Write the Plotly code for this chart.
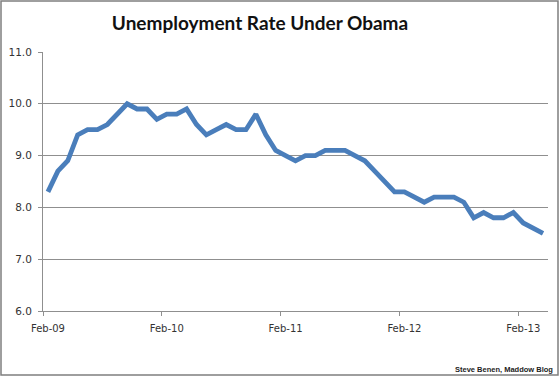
import plotly.graph_objects as go

months = ["Feb-09","Mar-09","Apr-09","May-09","Jun-09","Jul-09","Aug-09","Sep-09","Oct-09","Nov-09","Dec-09",
          "Jan-10","Feb-10","Mar-10","Apr-10","May-10","Jun-10","Jul-10","Aug-10","Sep-10","Oct-10","Nov-10","Dec-10",
          "Jan-11","Feb-11","Mar-11","Apr-11","May-11","Jun-11","Jul-11","Aug-11","Sep-11","Oct-11","Nov-11","Dec-11",
          "Jan-12","Feb-12","Mar-12","Apr-12","May-12","Jun-12","Jul-12","Aug-12","Sep-12","Oct-12","Nov-12","Dec-12",
          "Jan-13","Feb-13","Mar-13","Apr-13"]
rate = [8.3, 8.7, 8.9, 9.4, 9.5, 9.5, 9.6, 9.8, 10.0, 9.9, 9.9,
        9.7, 9.8, 9.8, 9.9, 9.6, 9.4, 9.5, 9.6, 9.5, 9.5, 9.8, 9.4,
        9.1, 9.0, 8.9, 9.0, 9.0, 9.1, 9.1, 9.1, 9.0, 8.9, 8.7, 8.5,
        8.3, 8.3, 8.2, 8.1, 8.2, 8.2, 8.2, 8.1, 7.8, 7.9, 7.8, 7.8,
        7.9, 7.7, 7.6, 7.5]
tick_labels = ["Feb-09", "Feb-10", "Feb-11", "Feb-12", "Feb-13"]
y_ticks = [6.0, 7.0, 8.0, 9.0, 10.0, 11.0]

idx = list(range(len(months)))
label_pos = [months.index(t) for t in tick_labels]
boundary_pos = [p - 0.5 for p in label_pos]

W, H = 560, 377
L, R, T, B = 43, 12, 52, 66

fig = go.Figure()
fig.add_trace(go.Scatter(x=idx, y=rate, mode="lines",
                         line=dict(color="#4A7EBB", width=4.8),
                         hoverinfo="skip", showlegend=False))

grid = "#8f8f8f"
fig.update_layout(
    width=W, height=H,
    margin=dict(l=L, r=R, t=T, b=B, autoexpand=False),
    paper_bgcolor="white", plot_bgcolor="white",
    title=dict(text="<b>Unemployment Rate Under Obama</b>",
               font=dict(family="Lato", size=19, color="#111"),
               xref="container", x=260 / W, xanchor="center",
               yref="container", y=1 - 23 / H, yanchor="middle"),
    xaxis=dict(range=[-0.5, len(months) - 0.5], tickmode="array",
               tickvals=label_pos, ticktext=tick_labels, ticks="",
               ticklabelstandoff=8, automargin=False,
               showgrid=False, zeroline=False,
               showline=True, linecolor=grid, linewidth=1,
               tickfont=dict(family="DejaVu Sans", size=10, color="#333"),
               minor=dict(tickmode="array", tickvals=boundary_pos, ticks="outside",
                          ticklen=4, tickcolor=grid, tickwidth=1, showgrid=False)),
    yaxis=dict(range=[6, 11], tickmode="array", tickvals=y_ticks,
               ticktext=[f"{v:.1f}" for v in y_ticks],
               ticks="outside", ticklen=4, tickcolor=grid,
               ticklabelstandoff=4, automargin=False,
               showgrid=True, gridcolor=grid, gridwidth=1, zeroline=False,
               showline=True, linecolor=grid, linewidth=1,
               tickfont=dict(family="DejaVu Sans", size=10.5, color="#333")),
)

pw = W - L - R
ph = H - T - B
fig.add_shape(type="rect", xref="paper", yref="paper",
              x0=(1 - L) / pw, x1=(W - 2 - L) / pw,
              y0=-(H - 2 - T - ph) / ph, y1=1 + (T - 1) / ph,
              line=dict(color="#7f7f7f", width=1.5), fillcolor="rgba(0,0,0,0)", layer="below")

fig.add_annotation(text="<b>Steve Benen, Maddow Blog</b>", xref="paper", yref="paper",
                   x=(W - 5 - L) / pw, y=-(369 - T - ph) / ph,
                   xanchor="right", yanchor="middle", showarrow=False,
                   font=dict(family="Liberation Sans", size=7.5, color="#222"))

fig.write_html("out.html", config={"displayModeBar": False},
               post_script="document.body.style.margin='0';document.body.style.overflow='hidden';")
